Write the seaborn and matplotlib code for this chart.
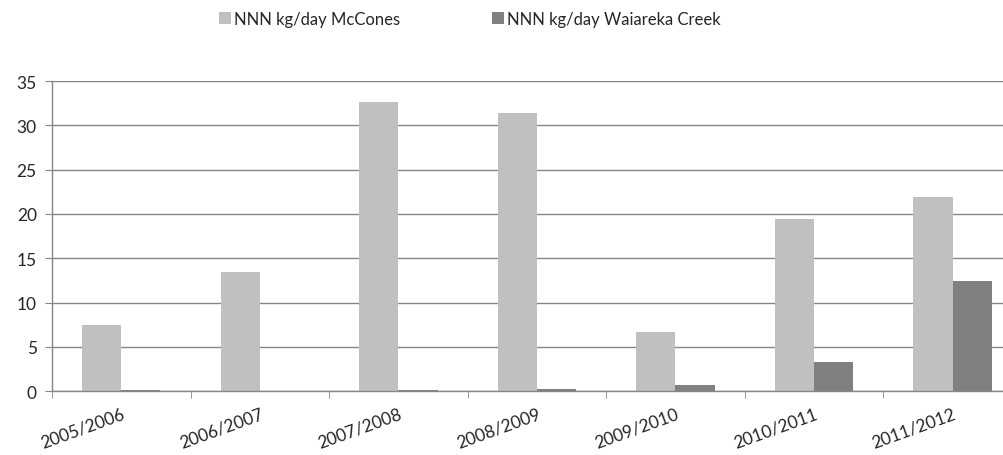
import pandas as pd
import seaborn as sns
import matplotlib.pyplot as plt
from matplotlib.ticker import FixedLocator

# 数据
years = ['2005/2006', '2006/2007', '2007/2008', '2008/2009', '2009/2010', '2010/2011', '2011/2012']
mccones = [7.5, 13.4, 32.6, 31.4, 6.7, 19.4, 21.9]
waiareka = [0.1, 0.05, 0.1, 0.3, 0.7, 3.3, 12.4]
series_names = ['NNN kg/day McCones', 'NNN kg/day Waiareka Creek']
colors = ['#c0c0c0', '#808080']

df = pd.DataFrame({
    'year': years * 2,
    'value': mccones + waiareka,
    'series': [series_names[0]] * len(years) + [series_names[1]] * len(years),
})

sns.set_style('white')
plt.rcParams['font.family'] = ['Lato', 'DejaVu Sans']

fig = plt.figure(figsize=(10.04, 4.56), dpi=100)
ax = fig.add_axes([0.0518, 0.140, 0.966, 0.680])

sns.barplot(data=df, x='year', y='value', hue='series', palette=colors,
            width=0.565, gap=0, saturation=1, linewidth=0, ax=ax, legend=True)

ax.set_ylim(0, 35)
ax.set_xlim(-0.5, 6.5)
ax.set_yticks(range(0, 36, 5))
ax.yaxis.grid(True, color='#868686', linewidth=1)
ax.set_axisbelow(True)
ax.set_xlabel('')
ax.set_ylabel('')

for s in ['top', 'right']:
    ax.spines[s].set_visible(False)
for s in ['left', 'bottom']:
    ax.spines[s].set_color('#868686')
    ax.spines[s].set_linewidth(1)

# 刻度线在类别之间
ax.xaxis.set_minor_locator(FixedLocator([i - 0.5 for i in range(len(years) + 1)]))
ax.tick_params(axis='x', which='major', length=0, pad=10)
ax.tick_params(axis='x', which='minor', length=5, color='#868686', direction='out', bottom=True)
ax.tick_params(axis='y', length=5, color='#868686', direction='out', left=True, labelsize=12.5, pad=6)
plt.setp(ax.get_xticklabels(), rotation=20, ha='right', rotation_mode='anchor', fontsize=12.5)

ax.legend(loc='center', bbox_to_anchor=(0.431, 1.2), ncol=2, frameon=False,
          fontsize=12, handlelength=0.7, handleheight=0.7, handletextpad=0.2,
          columnspacing=5.5)

fig.savefig('out.png', dpi=100)
